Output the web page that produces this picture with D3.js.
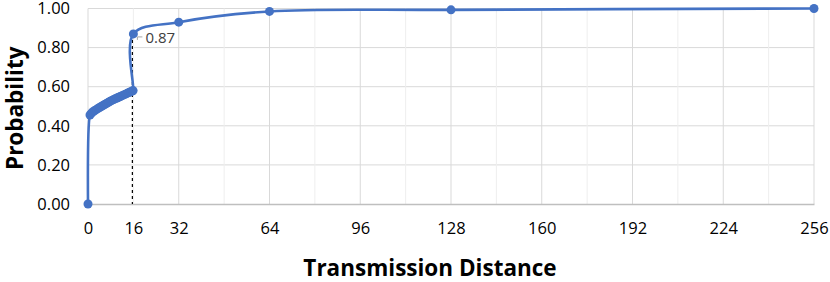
<!DOCTYPE html>
<html>
<head>
<meta charset="utf-8">
<script src="https://cdn.jsdelivr.net/npm/d3@7"></script>
<style>
  html, body { margin: 0; padding: 0; background: #fff; }
  svg { display: block; font-family: 'Open Sans', sans-serif; }
</style>
</head>
<body>
<div id="chart"></div>
<script>
// distances (x) and cumulative probability (y)
const distances = [0, 0.7, 1.2, 1.8, 2.4, 3, 3.6, 4.2, 4.8, 5.4, 6, 6.6, 7.2, 7.8, 8.4, 9, 9.6, 10.2, 10.8, 11.4, 12, 12.6, 13.2, 13.8, 14.4, 15, 15.6, 15.9, 16, 32, 64, 128, 256];
const probs = [0, 0.455, 0.465, 0.472, 0.478, 0.484, 0.49, 0.495, 0.5, 0.505, 0.51, 0.515, 0.52, 0.525, 0.53, 0.534, 0.538, 0.542, 0.546, 0.55, 0.554, 0.558, 0.562, 0.566, 0.57, 0.574, 0.578, 0.58, 0.87, 0.93, 0.985, 0.993, 1.0];
const xTicks = [0, 16, 32, 64, 96, 128, 160, 192, 224, 256];
const xMinorGrid = [16, 48, 80, 112, 144, 176, 208, 240];
const xMajorGrid = [32, 64, 96, 128, 160, 192, 224, 256];
const yTicks = [0, 0.2, 0.4, 0.6, 0.8, 1.0];
const labelled = { x: 16, y: 0.87, text: '0.87' };

const widthSvg = 830;
const heightSvg = 282;
const margin = { top: 8.5, right: 16, bottom: 78, left: 88 };
const widthChart = widthSvg - margin.left - margin.right;
const heightChart = heightSvg - margin.top - margin.bottom;

const data = distances.map((d, i) => ({ x: d, y: probs[i] }));

const scaleX = d3.scaleLinear().domain([0, 256]).range([0, widthChart]);
const scaleY = d3.scaleLinear().domain([0, 1]).range([heightChart, 0]);

const svg = d3.select('#chart').append('svg')
  .attr('width', widthSvg)
  .attr('height', heightSvg);

const g = svg.append('g')
  .attr('transform', `translate(${margin.left}, ${margin.top})`);

// grid
g.append('g').selectAll('line.hgrid')
  .data(yTicks.slice(1))
  .enter().append('line')
  .attr('x1', 0).attr('x2', widthChart)
  .attr('y1', d => scaleY(d)).attr('y2', d => scaleY(d))
  .attr('stroke', '#d9d9d9').attr('stroke-width', 1);

g.append('g').selectAll('line.vminor')
  .data(xMinorGrid)
  .enter().append('line')
  .attr('x1', d => scaleX(d)).attr('x2', d => scaleX(d))
  .attr('y1', 0).attr('y2', heightChart)
  .attr('stroke', '#eeeeee').attr('stroke-width', 1);

g.append('g').selectAll('line.vmajor')
  .data(xMajorGrid)
  .enter().append('line')
  .attr('x1', d => scaleX(d)).attr('x2', d => scaleX(d))
  .attr('y1', 0).attr('y2', heightChart)
  .attr('stroke', '#d9d9d9').attr('stroke-width', 1);

// left edge gridline + x axis
g.append('line')
  .attr('x1', 0).attr('x2', 0).attr('y1', 0).attr('y2', heightChart)
  .attr('stroke', '#d9d9d9');

const axisX = d3.axisBottom(scaleX).tickValues(xTicks).tickSize(0).tickPadding(18).tickFormat(d3.format('d'));
const gx = g.append('g').attr('transform', `translate(0, ${heightChart})`).call(axisX);
gx.select('.domain').attr('stroke', '#bfbfbf').attr('stroke-width', 1.3);
gx.selectAll('text').attr('font-size', 16.5).attr('fill', '#000').attr('font-family', 'Open Sans');

const axisY = d3.axisLeft(scaleY).tickValues(yTicks).tickSize(0).tickPadding(18).tickFormat(d3.format('.2f'));
const gy = g.append('g').call(axisY);
gy.select('.domain').remove();
gy.selectAll('text').attr('font-size', 16.5).attr('fill', '#000').attr('font-family', 'Open Sans');

// dashed drop line
g.append('line')
  .attr('x1', scaleX(labelled.x) - 1).attr('x2', scaleX(labelled.x) - 1)
  .attr('y1', scaleY(labelled.y)).attr('y2', heightChart)
  .attr('stroke', '#000').attr('stroke-width', 1.2)
  .attr('stroke-dasharray', '3,3');

// series
const line = d3.line()
  .x(d => scaleX(d.x))
  .y(d => scaleY(d.y))
  .curve(d3.curveCatmullRom.alpha(0.5));

g.append('path')
  .datum(data)
  .attr('fill', 'none')
  .attr('stroke', '#4472c4')
  .attr('stroke-width', 2.6)
  .attr('d', line);

g.append('g').selectAll('circle')
  .data(data)
  .enter().append('circle')
  .attr('cx', d => scaleX(d.x))
  .attr('cy', d => scaleY(d.y))
  .attr('r', 4.5)
  .attr('fill', '#4472c4');

// data label with leader
const lx = scaleX(labelled.x);
const ly = scaleY(labelled.y);
g.append('path')
  .attr('d', `M${lx + 4},${ly + 6} L${lx + 4},${ly + 3} L${lx + 9},${ly + 3}`)
  .attr('fill', 'none').attr('stroke', '#a6a6a6').attr('stroke-width', 1);
g.append('text')
  .attr('x', lx + 12).attr('y', ly + 9)
  .attr('font-size', 15).attr('fill', '#404040')
  .text(labelled.text);

// axis titles
svg.append('text')
  .attr('x', 430).attr('y', 276)
  .attr('text-anchor', 'middle')
  .attr('font-size', 22.5).attr('font-weight', 'bold')
  .text('Transmission Distance');

svg.append('text')
  .attr('transform', `translate(23, ${margin.top + heightChart / 2 + 2}) rotate(-90)`)
  .attr('text-anchor', 'middle')
  .attr('font-size', 22.5).attr('font-weight', 'bold')
  .text('Probability');
</script>
</body>
</html>
